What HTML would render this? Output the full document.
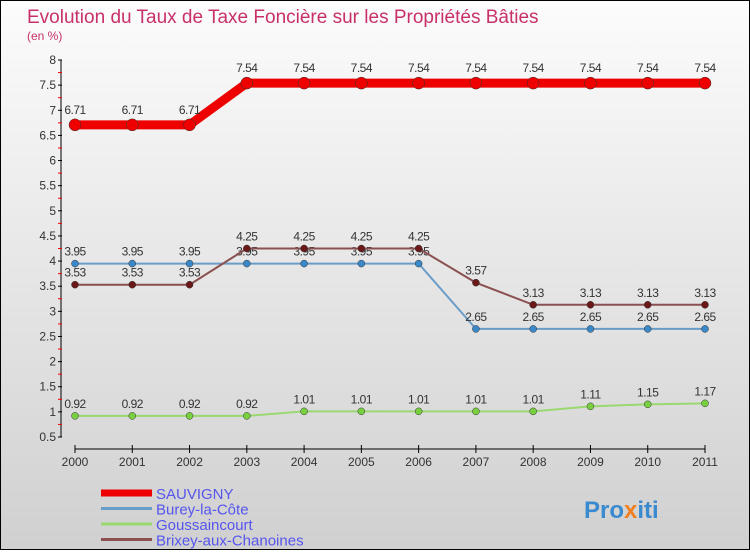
<!DOCTYPE html>
<html><head><meta charset="utf-8"><style>
html,body{margin:0;padding:0}
body{width:750px;height:550px;overflow:hidden;font-family:"Liberation Sans",sans-serif}
#wrap{position:relative;width:748px;height:548px;border:1px solid #000;background:linear-gradient(#fcfcfc,#d0d0d0)}
</style></head><body>
<div id="wrap">
<svg id="chart" width="748" height="548">
<text x="26" y="22" font-size="19" fill="#c8306a">Evolution du Taux de Taxe Foncière sur les Propriétés Bâties</text>
<text x="26" y="39" font-size="12" fill="#c8306a">(en %)</text>
<g id="axes"></g><g id="series"></g><g id="legend"></g>
<text x="583" y="517" font-size="24" font-weight="bold" fill="#3a8ad0">Pro<tspan fill="#f08020">x</tspan>iti</text>
</svg>
</div>
<script>
const years=["2000","2001","2002","2003","2004","2005","2006","2007","2008","2009","2010","2011"];
const yTicks=[0.5,1,1.5,2,2.5,3,3.5,4,4.5,5,5.5,6,6.5,7,7.5,8];
const sauvigny=[6.71,6.71,6.71,7.54,7.54,7.54,7.54,7.54,7.54,7.54,7.54,7.54];
const burey=[3.95,3.95,3.95,3.95,3.95,3.95,3.95,2.65,2.65,2.65,2.65,2.65];
const gouss=[0.92,0.92,0.92,0.92,1.01,1.01,1.01,1.01,1.01,1.11,1.15,1.17];
const brixey=[3.53,3.53,3.53,4.25,4.25,4.25,4.25,3.57,3.13,3.13,3.13,3.13];
const seriesNames=["SAUVIGNY","Burey-la-Côte","Goussaincourt","Brixey-aux-Chanoines"];
const NS="http://www.w3.org/2000/svg";
function X(i){return 74+i*(630/(years.length-1));}
function Y(v){return 59+(8-v)*(377/7.5);}
function mk(tag,attrs,parent){const e=document.createElementNS(NS,tag);for(const k in attrs)e.setAttribute(k,attrs[k]);parent.appendChild(e);return e;}
const ax=document.getElementById('axes');
let e=mk('line',{x1:60,y1:Y(8),x2:60,y2:Y(0.5),stroke:'#000'},ax);


yTicks.forEach((t,i)=>{
 mk('line',{x1:57,y1:Y(t),x2:61,y2:Y(t),stroke:'#000'},ax);
 if(i<yTicks.length-1) mk('line',{x1:57,y1:Y(t+0.25),x2:61,y2:Y(t+0.25),stroke:'#e00'},ax);
 const tx=mk('text',{x:55,y:Y(t)+4,'font-size':12,'text-anchor':'end',fill:'#333'},ax);
 tx.textContent=String(t);
 
 
});
e=mk('line',{x1:X(0),y1:448,x2:X(11),y2:448,stroke:'#000'},ax);


years.forEach((y,i)=>{
 mk('line',{x1:X(i),y1:444,x2:X(i),y2:452,stroke:'#000'},ax);
 const tx=mk('text',{x:X(i),y:465,'font-size':12,'text-anchor':'middle',fill:'#333'},ax);
 tx.textContent=y;
 
 
});
const sg=document.getElementById('series');
function draw(vals,color,lw,r,name,dot){
 const g=mk('g',{},sg);
 
 
 mk('polyline',{points:vals.map((v,i)=>X(i)+','+Y(v)).join(' '),fill:'none',stroke:color,'stroke-width':lw},g);
 vals.forEach((v,i)=>{
  const c=mk('circle',{cx:X(i),cy:Y(v),r:r,fill:dot,stroke:'#333','stroke-width':0.5},g);
  
  
  const t=mk('text',{x:X(i),y:Y(v)-8-(r>5?3:0),'font-size':12,'text-anchor':'middle',fill:'#333','letter-spacing':'-0.5'},g);
  t.textContent=String(v);
  
  
 });
}
draw(gouss,'#9ad870',2,3.5,'series-goussaincourt','#78d040');
draw(burey,'#6a9cc8',2,3.5,'series-burey-la-cote','#3a88c8');
draw(brixey,'#8a5050',2,3.5,'series-brixey-aux-chanoines','#6a1818');
draw(sauvigny,'#ee0000',9,6,'series-sauvigny','#ee0000');
const lg=document.getElementById('legend');
const lc=['#ee0000','#6a9cc8','#9ad870','#8a5050'],lwid=[7,3,3,3];
seriesNames.forEach((n,i)=>{
 const yy=492+i*15.5;
 const g=mk('g',{},lg);
 
 
 mk('line',{x1:100,y1:yy,x2:151,y2:yy,stroke:lc[i],'stroke-width':lwid[i]},g);
 const t=mk('text',{x:155,y:yy+6,'font-size':15,fill:'#5555ee'},g);
 t.textContent=n;
});
</script>
</body></html>
